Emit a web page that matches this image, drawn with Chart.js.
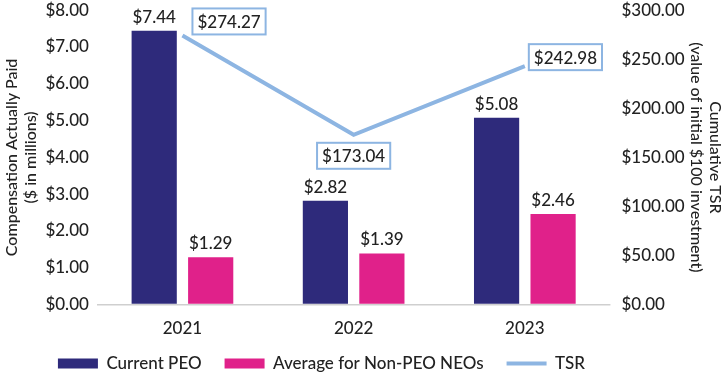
<!DOCTYPE html>
<html>
<head>
<meta charset="utf-8">
<script src="https://cdn.jsdelivr.net/npm/chart.js@4"></script>
<style>
  html, body { margin: 0; padding: 0; background: #fff; }
  #wrap { width: 725px; height: 376px; }
</style>
</head>
<body>
<div id="wrap"><canvas id="capChart" width="725" height="376"></canvas></div>
<script>
// chart data
const years = ["2021", "2022", "2023"];
const currentPeo = [7.44, 2.82, 5.08];
const nonPeoAvg = [1.29, 1.39, 2.46];
const tsr = [274.27, 173.04, 242.98];
const leftTicks = [0, 1, 2, 3, 4, 5, 6, 7, 8];
const rightTicks = [0, 50, 100, 150, 200, 250, 300];

const NAVY = "#2e2a7b";
const PINK = "#e0218a";
const BLUE = "#8db5e2";
const TEXT = "#222222";
const FONT = "Lato, 'Noto Sans', sans-serif";
const WEIGHT = "500";

// where each TSR box sits relative to its point
const tsrBoxPlace = [
  { dx: 10, dy: -14, align: "left" },
  { dx: 0, dy: 21, align: "center" },
  { dx: 4, dy: -9, align: "left" }
];

const money = v => "$" + v.toFixed(2);

// labels above bars + boxed TSR labels
const valueLabels = {
  id: "valueLabels",
  afterLayout(chart) {
    // legend in the original sits left of the page centre
    chart.legend.left -= 42;
    chart.legend.right -= 42;
  },
  afterDatasetsDraw(chart) {
    const ctx = chart.ctx;
    ctx.save();
    ctx.font = WEIGHT + " 17px " + FONT;
    ctx.fillStyle = TEXT;
    ctx.textAlign = "center";
    ctx.textBaseline = "bottom";
    [1, 2].forEach(di => {
      const meta = chart.getDatasetMeta(di);
      meta.data.forEach((bar, i) => {
        ctx.fillText(money(chart.data.datasets[di].data[i]), bar.x, bar.y - 5);
      });
    });

    const lineMeta = chart.getDatasetMeta(0);
    ctx.textBaseline = "middle";
    lineMeta.data.forEach((pt, i) => {
      const txt = money(tsr[i]);
      const w = ctx.measureText(txt).width + 10;
      const h = 26;
      const p = tsrBoxPlace[i];
      const left = p.align === "center" ? pt.x + p.dx - w / 2 : pt.x + p.dx;
      const cy = pt.y + p.dy;
      ctx.fillStyle = "#fff";
      ctx.fillRect(left, cy - h / 2, w, h);
      ctx.strokeStyle = BLUE;
      ctx.lineWidth = 2;
      ctx.strokeRect(left, cy - h / 2, w, h);
      ctx.fillStyle = TEXT;
      ctx.textAlign = "left";
      ctx.fillText(txt, left + 5, cy + 1);
    });
    ctx.restore();
  }
};

Chart.defaults.font.family = FONT;
Chart.defaults.font.weight = WEIGHT;
Chart.defaults.color = TEXT;

new Chart(document.getElementById("capChart"), {
  type: "bar",
  data: {
    labels: years,
    datasets: [
      {
        type: "line",
        label: "TSR",
        data: tsr,
        yAxisID: "yR",
        borderColor: BLUE,
        backgroundColor: BLUE,
        borderWidth: 4,
        pointRadius: 0,
        tension: 0,
        order: 0
      },
      {
        label: "Current PEO",
        data: currentPeo,
        yAxisID: "yL",
        backgroundColor: NAVY,
        barPercentage: 0.8,
        categoryPercentage: 0.66,
        order: 1
      },
      {
        label: "Average for Non-PEO NEOs",
        data: nonPeoAvg,
        yAxisID: "yL",
        backgroundColor: PINK,
        barPercentage: 0.8,
        categoryPercentage: 0.66,
        order: 1
      }
    ]
  },
  options: {
    responsive: false,
    animation: false,
    layout: { padding: { left: 2, right: 0, top: 0, bottom: -6 } },
    plugins: {
      tooltip: { enabled: false },
      legend: {
        position: "bottom",
        labels: {
          font: { size: 17 },
          color: TEXT,
          usePointStyle: true,
          pointStyleWidth: 40,
          boxWidth: 40,
          boxHeight: 10,
          padding: 6,
          sort: (a, b) => (a.datasetIndex === 0 ? 1 : (b.datasetIndex === 0 ? -1 : a.datasetIndex - b.datasetIndex)),
          generateLabels(chart) {
            const items = Chart.defaults.plugins.legend.labels.generateLabels(chart);
            items.forEach(it => {
              if (it.datasetIndex === 0) {
                it.pointStyle = "line";
                it.strokeStyle = BLUE;
                it.lineWidth = 4;
              } else {
                it.pointStyle = "rect";
                it.lineWidth = 0;
                // wider gap to the next entry, as in the original
                it.text = it.text + "\u2002\u2002";
              }
            });
            return items;
          }
        }
      }
    },
    scales: {
      x: {
        grid: { display: false },
        border: { display: false },
        ticks: { font: { size: 17 }, padding: 6 },
        afterFit: s => { s.height += 4; }
      },
      yL: {
        position: "left",
        min: 0,
        max: 8,
        afterBuildTicks: s => { s.ticks = leftTicks.map(v => ({ value: v })); },
        ticks: { font: { size: 17 }, padding: 0, callback: v => money(v) },
        grid: {
          drawTicks: true,
          tickLength: 8,
          tickColor: "transparent",
          color: c => c.tick && c.tick.value === 0 ? "#cfcfcf" : "transparent",
          lineWidth: 1.5
        },
        border: { display: false },
        title: {
          display: true,
          text: ["Compensation Actually Paid", "($ in millions)"],
          font: { size: 16 },
          padding: { top: 0, bottom: 5 }
        }
      },
      yR: {
        position: "right",
        min: 0,
        max: 300,
        afterBuildTicks: s => { s.ticks = rightTicks.map(v => ({ value: v })); },
        ticks: { font: { size: 17 }, padding: 0, callback: v => money(v) },
        grid: {
          display: true,
          drawOnChartArea: false,
          drawTicks: true,
          tickLength: 11,
          tickColor: "transparent"
        },
        border: { display: false },
        title: {
          display: true,
          text: ["Cumulative TSR", "(value of initial $100 investment)"],
          font: { size: 16 },
          padding: { top: 0, bottom: 2 }
        }
      }
    }
  },
  plugins: [valueLabels]
});
</script>
</body>
</html>
